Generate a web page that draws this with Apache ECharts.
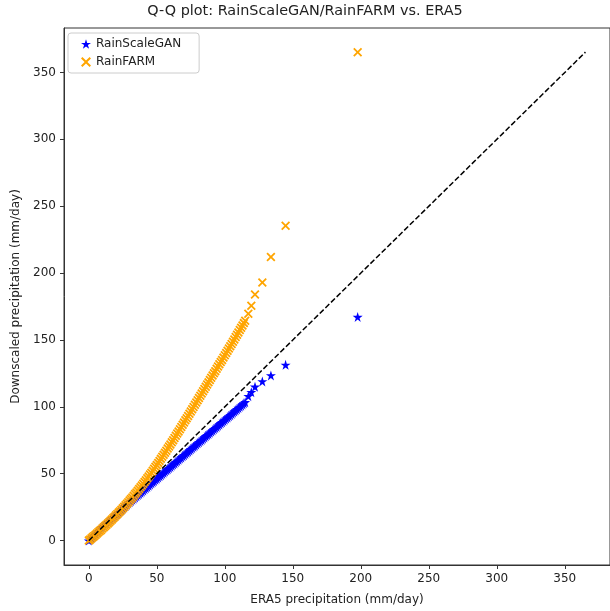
<!DOCTYPE html>
<html>
<head>
<meta charset="utf-8">
<script src="https://cdn.jsdelivr.net/npm/echarts@6/dist/echarts.min.js"></script>
<style>
html,body{margin:0;padding:0;background:#fff;}
#chart{width:610px;height:611px;}
</style>
</head>
<body>
<div id="chart"></div>
<script>
// ERA5 quantiles (x) shared by both series
const era5Quantiles = [
  0,1,2,3,4,5,6,7,8,9,10,11,12,13,14,15,16,17,18,19,20,
  21,22,23,24,25,26,27,28,29,30,31,32,33,34,35,36,37,38,39,40,
  41,42,43,44,45,46,47,48,49,50,51,52,53,54,55,56,57,58,59,60,
  61,62,63,64,65,66,67,68,69,70,71,72,73,74,75,76,77,78,79,80,
  81,82,83,84,85,86,87,88,89,90,91,92,93,94,95,96,97,98,99,100,
  101,102,103,104,105,106,107,108,109,110,111,112,113,114,115,
  117.3,119.5,122.2,127.6,133.9,144.7,197.7];
const rainScaleGAN = [
  0,1,2,3,4,5,6,7,8,9,10,10.9,11.9,12.8,13.7,14.7,15.6,16.5,17.5,18.4,19.4,
  20.3,21.2,22.2,23.1,24.0,25.0,25.9,26.8,27.8,28.7,29.6,30.5,31.3,32.2,33.1,34.0,34.9,35.7,36.6,37.5,
  38.4,39.3,40.1,41.0,41.9,42.8,43.7,44.5,45.4,46.3,47.2,48.1,48.9,49.8,50.7,51.6,52.5,53.3,54.2,55.1,
  56.0,56.9,57.7,58.6,59.5,60.4,61.3,62.1,63.0,63.9,64.8,65.7,66.5,67.4,68.3,69.2,70.1,70.9,71.8,72.7,
  73.6,74.5,75.3,76.2,77.1,78.0,78.9,79.7,80.6,81.5,82.4,83.3,84.1,85.0,85.9,86.8,87.7,88.5,89.4,90.3,
  91.2,92.1,92.9,93.8,94.7,95.6,96.5,97.3,98.2,99.1,100.0,100.9,101.8,102.6,103.5,
  108.0,111.0,115.0,119.0,123.5,131.4,167.2];
const rainFARM = [
  0,0.9,1.8,2.6,3.5,4.4,5.3,6.2,7.1,8.0,9.0,9.9,10.9,11.8,12.8,13.8,14.8,15.8,16.8,17.9,18.9,
  19.9,21.0,22.0,23.1,24.2,25.3,26.4,27.6,28.7,29.9,31.1,32.3,33.5,34.8,36.0,37.3,38.6,39.8,41.2,42.5,
  43.9,45.2,46.6,48.0,49.4,50.8,52.3,53.7,55.2,56.6,58.1,59.6,61.1,62.6,64.1,65.7,67.2,68.8,70.3,71.9,
  73.5,75.1,76.7,78.4,80.0,81.6,83.3,84.9,86.6,88.2,89.9,91.5,93.2,94.8,96.5,98.2,99.9,101.5,103.2,104.9,
  106.6,108.3,109.9,111.6,113.3,115.0,116.7,118.3,120.0,121.7,123.4,125.1,126.7,128.4,130.1,131.8,133.5,135.1,136.8,138.5,
  140.2,141.9,143.6,145.3,147.0,148.7,150.4,152.2,153.9,155.6,157.4,159.1,160.8,162.6,164.4,
  169.6,175.6,184.0,193.0,212.0,235.4,365.2];
const refLine = [0, 365.2];
const tickValues = [0,50,100,150,200,250,300,350];
const seriesNames = ['RainScaleGAN','RainFARM'];
const titleText = 'Q-Q plot: RainScaleGAN/RainFARM vs. ERA5';
const xLabel = 'ERA5 precipitation (mm/day)';
const yLabel = 'Downscaled precipitation (mm/day)';

const starPath = 'path://M0,-1L0.2245,-0.309L0.951,-0.309L0.363,0.118L0.588,0.809L0,0.382L-0.588,0.809L-0.363,0.118L-0.951,-0.309L-0.2245,-0.309Z';
const xPath = 'path://M1.4,0L5,3.6L8.6,0L10,1.4L6.4,5L10,8.6L8.6,10L5,6.4L1.4,10L0,8.6L3.6,5L0,1.4Z';

const pairs = (xs, ys) => xs.map((x, i) => [x, ys[i]]);
const font = 'DejaVu Sans';
const axisCommon = {
  type: 'value',
  min: -18.25,
  max: 383.25,
  splitLine: {show: false},
  axisLine: {show: true, onZero: false, lineStyle: {color: '#333', width: 1}},
  axisTick: {show: true, length: 4, customValues: tickValues, lineStyle: {color: '#333', width: 1}},
  axisLabel: {customValues: tickValues, margin: 8, color: '#222', fontSize: 12, fontFamily: font},
  nameLocation: 'middle',
  nameTextStyle: {color: '#222', fontSize: 12, fontFamily: font}
};

const chart = echarts.init(document.getElementById('chart'), null, {renderer: 'canvas'});
chart.setOption({
  animation: false,
  backgroundColor: '#fff',
  title: {
    text: titleText, left: 'center', top: 4, padding: 0,
    textStyle: {fontFamily: font, fontSize: 14.4, fontWeight: 'normal', color: '#222'}
  },
  legend: {
    orient: 'vertical', left: 68, top: 33,
    padding: [5, 18, 5, 13], itemGap: 6, itemWidth: 10, itemHeight: 10,
    backgroundColor: '#fff', borderColor: '#ccc', borderWidth: 1, borderRadius: 3,
    textStyle: {fontFamily: font, fontSize: 12, color: '#222'},
    data: [{name: seriesNames[0], icon: starPath}, {name: seriesNames[1], icon: xPath}]
  },
  grid: {left: 64, top: 28, width: 548, height: 543, show: true, borderColor: '#333', borderWidth: 1, backgroundColor: 'transparent'},
  xAxis: Object.assign({}, axisCommon, {name: xLabel, nameGap: 29}),
  yAxis: Object.assign({}, axisCommon, {name: yLabel, nameGap: 34}),
  series: [
    {
      name: seriesNames[0], type: 'scatter', symbol: starPath, symbolSize: 10,
      itemStyle: {color: '#0000ff', opacity: 1},
      data: pairs(era5Quantiles, rainScaleGAN), z: 2
    },
    {
      name: seriesNames[1], type: 'scatter', symbol: xPath, symbolSize: 9,
      itemStyle: {color: '#ffa500', opacity: 1},
      data: pairs(era5Quantiles, rainFARM), z: 3
    },
    {
      name: 'ref', type: 'line', showSymbol: false, symbol: 'none',
      lineStyle: {color: '#000', width: 1.5, type: [5.5, 2.4]},
      data: pairs(refLine, refLine), z: 5, silent: true
    }
  ]
});
</script>
</body>
</html>
